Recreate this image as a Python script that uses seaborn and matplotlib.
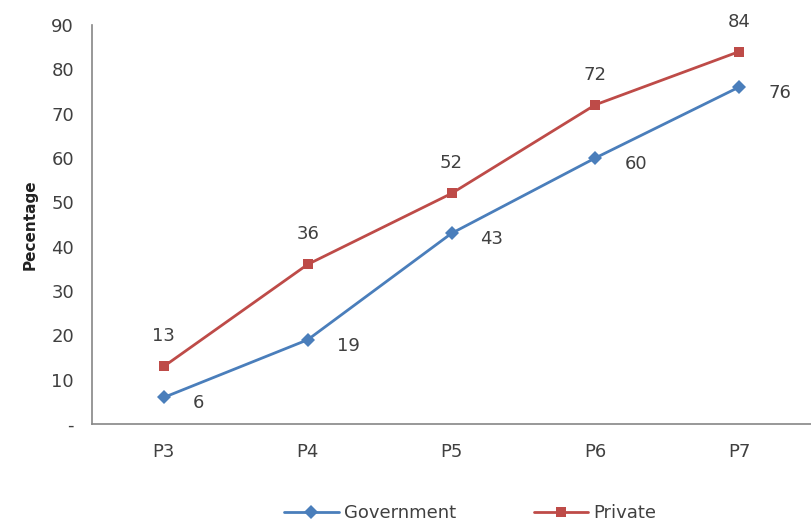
import matplotlib
matplotlib.use("Agg")
import matplotlib.pyplot as plt
import seaborn as sns
import pandas as pd

grados = ["P3", "P4", "P5", "P6", "P7"]
gobierno = [6, 19, 43, 60, 76]
privado = [13, 36, 52, 72, 84]
series = ["Government", "Private"]
colores = {"Government": "#4A7EBB", "Private": "#BE4B48"}
y_ticks = [0, 10, 20, 30, 40, 50, 60, 70, 80, 90]
y_labels = ["-"] + [str(v) for v in y_ticks[1:]]

df = pd.DataFrame({
    "grado": grados * 2,
    "pct": gobierno + privado,
    "tipo": [series[0]] * len(grados) + [series[1]] * len(grados),
})

sns.set_style("white")
plt.rcParams["font.family"] = ["DejaVu Sans"]
texto = "#404040"
gris = "#868686"

fig = plt.figure(figsize=(8.11, 5.26), dpi=100)
ax = fig.add_axes([92 / 811, 102 / 526, 719 / 811, 399 / 526])

sns.lineplot(data=df, x="grado", y="pct", hue="tipo", style="tipo",
             markers={"Government": "D", "Private": "s"}, dashes=False,
             palette=colores, linewidth=2.0, markersize=7,
             markeredgewidth=0, ax=ax, legend=True)

ax.set_xlim(-0.5, 4.44)
ax.set_ylim(0, 90)
ax.set_yticks(y_ticks)
ax.set_yticklabels(y_labels)
ax.set_xticks(range(len(grados)))
ax.set_xticklabels(grados)
ax.set_xticks([i - 0.5 for i in range(len(grados) + 1)], minor=True)
ax.tick_params(axis="x", which="major", length=0, pad=14, labelsize=13, labelcolor=texto)
ax.tick_params(axis="x", which="minor", length=5, color=gris, direction="out")
ax.tick_params(axis="y", length=5, color=gris, direction="out", pad=8,
               labelsize=13, labelcolor=texto)
ax.set_xlabel("")
ax.set_ylabel("Pecentage", fontsize=11, fontweight="bold", color="#222222", labelpad=10)

for lado in ["top", "right"]:
    ax.spines[lado].set_visible(False)
for lado in ["left", "bottom"]:
    ax.spines[lado].set_color(gris)
    ax.spines[lado].set_linewidth(1.2)

for i, v in enumerate(gobierno):
    ax.annotate(str(v), (i, v), xytext=(29, -6), textcoords="offset pixels",
                ha="left", va="center", fontsize=13, color=texto)
for i, v in enumerate(privado):
    ax.annotate(str(v), (i, v), xytext=(0, 30), textcoords="offset pixels",
                ha="center", va="center", fontsize=13, color=texto)

ax.legend(title=None, loc="center", bbox_to_anchor=(0.58, 0.025), bbox_transform=fig.transFigure,
          ncol=2, frameon=False, fontsize=13, labelcolor=texto, handlelength=3,
          columnspacing=4.3, handletextpad=0.3)

fig.savefig("out.png", dpi=100)
